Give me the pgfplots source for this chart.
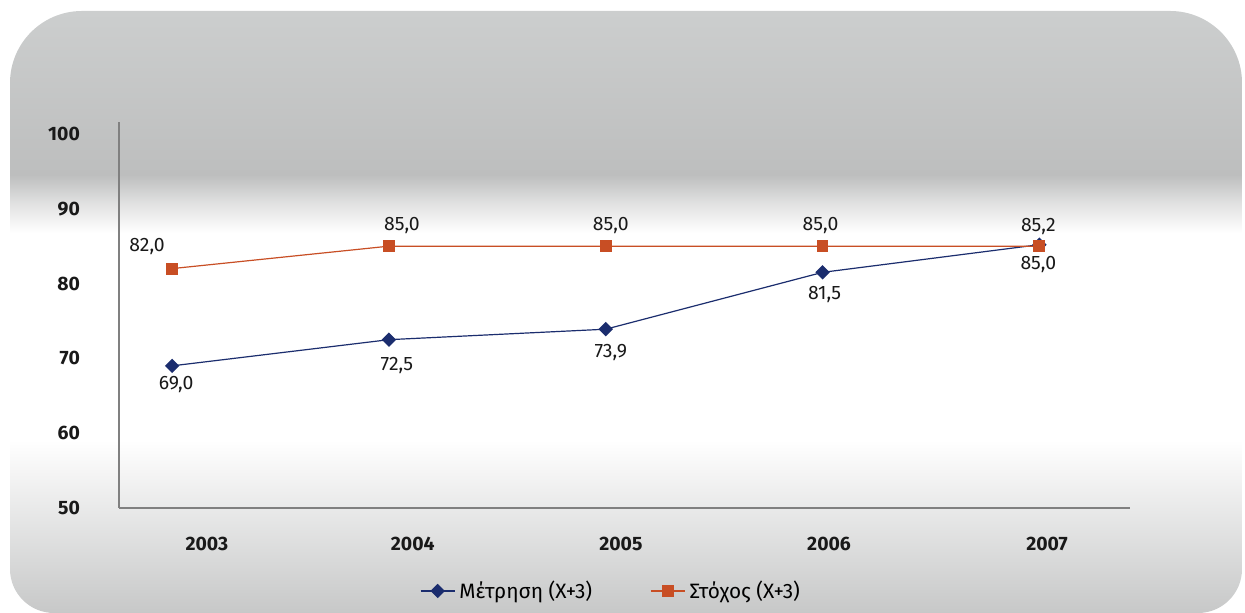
\documentclass[border=0pt]{standalone}
\usepackage{fontspec}
\setmainfont{Fira Sans}
\usepackage{pgfplots}
\pgfplotsset{compat=1.18}

\definecolor{navy}{RGB}{27,45,110}
\definecolor{rust}{RGB}{200,78,36}
\definecolor{bgtop}{RGB}{204,206,206}
\definecolor{bgband}{RGB}{189,190,190}
\definecolor{bgbot}{RGB}{199,200,200}
\definecolor{axisgray}{RGB}{128,128,128}

% panel shading, bottom to top (TikZ maps 25bp..75bp onto the path)
\pgfdeclareverticalshading{panel}{100bp}{%
  color(0bp)=(bgbot); color(25bp)=(bgbot);
  color(39.4bp)=(white); color(56.6bp)=(white);
  color(59bp)=(bgband!45!white); color(61.4bp)=(bgband);
  color(75bp)=(bgtop); color(100bp)=(bgtop)}

\newcommand{\lblfont}{\fontsize{9.7}{11}\selectfont}
\newcommand{\legfont}{\fontsize{10.4}{12}\selectfont}

\begin{document}
\begin{tikzpicture}[x=1pt,y=1pt]
\useasboundingbox (0,0) rectangle (622.5,306.5);
\shade[shading=panel] (5,150) [rounded corners=36pt] -- (5,301) -- (621,301)
  -- (621,150) [rounded corners=22pt] -- (621,0) -- (5,0) -- cycle;

\begin{axis}[
    at={(59.5pt,52.5pt)}, anchor=south west,
    scale only axis,
    width=505.5pt,
    height=193pt,
    xmin=-0.245, xmax=4.418,
    ymin=50, ymax=101.6,
    axis lines*=left,
    axis line style={-, draw=axisgray, line width=0.7pt},
    ytick={50,60,70,80,90,100},
    xtick={0.16,1.11,2.07,3.03,4.035},
    xticklabels={2003,2004,2005,2006,2007},
    major tick length=0pt,
    tick label style={font=\bfseries\lblfont, text=black!90},
    yticklabel style={xshift=-16pt},
    xticklabel style={yshift=-11pt},
    /pgf/number format/assume math mode=true,
    clip=false,
    legend style={at={(0.4876,-0.215)}, anchor=center, draw=none, fill=none,
        font=\legfont, /tikz/every even column/.append style={column sep=27pt}},
    legend columns=2,
    legend cell align=left,
]
\addplot[navy, line width=0.6pt, mark=square*, mark size=2.25pt,
    mark options={rotate=45, fill=navy},
    nodes near coords, point meta=explicit symbolic,
    visualization depends on={\thisrow{dx} \as \dx},
    visualization depends on={\thisrow{dy} \as \dy},
    every node near coord/.append style={anchor=center, text=black!90,
        font=\lblfont, xshift=\dx pt, yshift=\dy pt}]
    table[x=x, y=y, meta=lab] {
x y lab dx dy
0 69.0 69,0 2 -9.5
1 72.5 72,5 4 -12.7
2 73.9 73,9 2.5 -11.9
3 81.5 81,5 1 -11.3
4 85.2 85,2 -0.5 9
};
\addlegendentry{Μέτρηση (Χ+3)}
\addplot[rust, line width=0.6pt, mark=square*, mark size=2.65pt,
    mark options={fill=rust},
    nodes near coords, point meta=explicit symbolic,
    visualization depends on={\thisrow{dx} \as \dx},
    visualization depends on={\thisrow{dy} \as \dy},
    every node near coord/.append style={anchor=center, text=black!90,
        font=\lblfont, xshift=\dx pt, yshift=\dy pt}]
    table[x=x, y=y, meta=lab] {
x y lab dx dy
0 82.0 82,0 -12.5 10.8
1 85.0 85,0 6.5 10.1
2 85.0 85,0 2.5 10.1
3 85.0 85,0 -1 10.1
4 85.0 85,0 -0.5 -9
};
\addlegendentry{Στόχος (Χ+3)}
\end{axis}
\end{tikzpicture}
\end{document}
